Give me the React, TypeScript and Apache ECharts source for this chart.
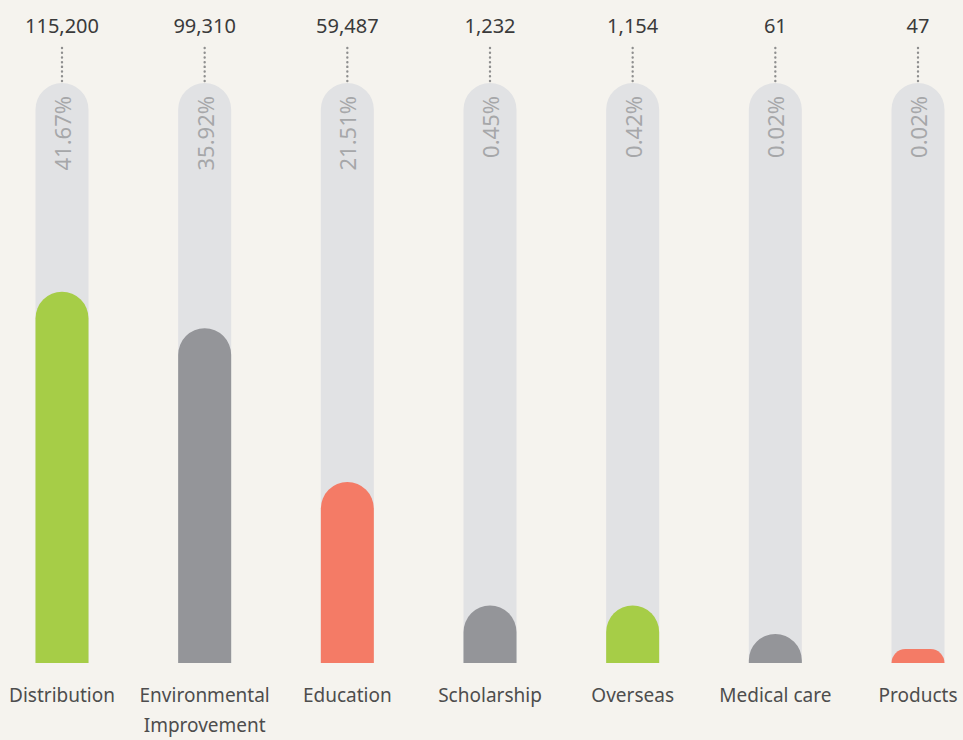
import React, { useEffect, useRef } from "react";
import * as echarts from "echarts";

const categories = [
  "Distribution",
  "Environmental\nImprovement",
  "Education",
  "Scholarship",
  "Overseas",
  "Medical care",
  "Products",
];
const amounts = ["115,200", "99,310", "59,487", "1,232", "1,154", "61", "47"];
const percents = ["41.67%", "35.92%", "21.51%", "0.45%", "0.42%", "0.02%", "0.02%"];
// drawn bar level on a 0–100 track
const barLevels = [64.0, 57.7, 31.2, 9.9, 9.9, 5.0, 2.4];
const trackMax = 100;
const barColors = ["#a6cd47", "#949599", "#f47b66", "#949599", "#a6cd47", "#949599", "#f47b66"];

const FONT = "'Noto Sans', 'Open Sans', sans-serif";

export default function App() {
  const ref = useRef<HTMLDivElement>(null);
  useEffect(() => {
    if (!ref.current) return;
    const chart = echarts.init(ref.current, undefined, { renderer: "svg" });
    const bw = 53;
    chart.setOption({
      animation: false,
      backgroundColor: "#f5f3ee",
      grid: { left: 62, right: 45, top: 83, bottom: 73, containLabel: false },
      xAxis: {
        type: "category",
        data: categories,
        boundaryGap: false,
        axisLine: { show: false },
        axisTick: { show: false },
        splitLine: { show: false },
        axisLabel: {
          interval: 0,
          margin: 17,
          color: "#4d4d4d",
          fontSize: 19,
          lineHeight: 30,
          fontFamily: FONT,
          hideOverlap: false,
        },
      },
      yAxis: {
        type: "value",
        min: 0,
        max: trackMax,
        show: false,
        splitLine: { show: false },
      },
      series: [
        {
          type: "bar",
          data: categories.map(() => trackMax),
          barWidth: bw,
          barGap: "-100%",
          silent: true,
          itemStyle: { color: "#e1e2e4", borderRadius: [bw / 2, bw / 2, 0, 0] },
          z: 1,
        },
        {
          type: "bar",
          data: barLevels.map((v, i) => ({ value: v, itemStyle: { color: barColors[i] } })),
          barWidth: bw,
          barGap: "-100%",
          itemStyle: { borderRadius: [bw / 2, bw / 2, 0, 0] },
          z: 2,
        },
        {
          type: "custom",
          data: categories.map((_, i) => [i, trackMax]),
          z: 3,
          silent: true,
          renderItem: (params: any, api: any) => {
            const i = api.value(0);
            const p = api.coord([i, trackMax]);
            const x = p[0];
            const y = p[1];
            return {
              type: "group",
              children: [
                {
                  type: "line",
                  shape: { x1: x, y1: y - 35, x2: x, y2: y - 2 },
                  style: {
                    stroke: "#8e8e8e",
                    lineWidth: 2.4,
                    lineDash: [0.1, 4.6],
                    lineCap: "round",
                  },
                },
                {
                  type: "text",
                  style: {
                    text: amounts[i],
                    x: x,
                    y: y - 58,
                    align: "center",
                    verticalAlign: "middle",
                    fill: "#3a3a3a",
                    fontSize: 20,
                    fontFamily: FONT,
                  },
                },
                {
                  type: "text",
                  x: x,
                  y: y + 13,
                  rotation: Math.PI / 2,
                  style: {
                    text: percents[i],
                    x: 0,
                    y: 0,
                    align: "right",
                    verticalAlign: "middle",
                    fill: "#a6a7a9",
                    fontSize: 22,
                    fontFamily: FONT,
                  },
                },
              ],
            };
          },
        },
      ],
    });
    return () => chart.dispose();
  }, []);
  return (
    <div
      ref={ref}
      style={{ position: "absolute", left: 0, top: 0, width: 963, height: 740 }}
    />
  );
}
